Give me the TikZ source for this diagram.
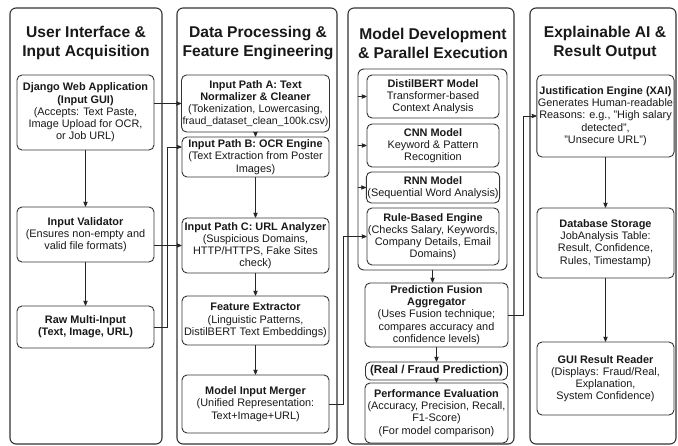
\documentclass[tikz,border=0pt]{standalone}
\usepackage{fontspec}
\setmainfont{Liberation Sans}
\usepackage{tikz}
\usetikzlibrary{positioning, arrows}
\tikzset {
    ->,
    >=stealth',
    panel/.style={draw=black!80, line width=1.1pt, rounded corners=6pt, fill=white, minimum height=436pt, inner sep=0pt},
    group/.style={draw=black!80, line width=0.9pt, rounded corners=6pt, inner sep=0pt},
    box/.style={draw=black!80, line width=0.9pt, rounded corners=5pt, fill=white, align=center, inner sep=1pt, text=black!90, font=\fontsize{10.9}{12.2}\selectfont},
    title/.style={align=center, text=black!90, font=\fontsize{15.6}{19}\selectfont\bfseries}
}

\begin{document}
\begin{tikzpicture}[x=1pt, y=-1pt, line width=0.8pt, color=black!85]
                    \useasboundingbox (0,0) rectangle (678,446);

                    \node[panel, minimum width=152pt] (uiPanel) at (86,226) {};
                    \node[panel, minimum width=160pt] (dpPanel) at (257,226) {};
                    \node[panel, minimum width=166pt] (mdPanel) at (431,226) {};
                    \node[panel, minimum width=146pt] (xaPanel) at (603,226) {};

                    \node[title] (uiTitle) at (86,43) {User Interface \&\\Input Acquisition};
                    \node[title] (dpTitle) at (258,43) {Data Processing \&\\Feature Engineering};
                    \node[title] (mdTitle) at (433,43) {Model Development\\\& Parallel Execution};
                    \node[title] (xaTitle) at (605,43) {Explainable AI \&\\Result Output};

                    \node[box, minimum width=137pt, minimum height=75pt] (django) at (85.5,112.5) {\textbf{Django Web Application}\\\textbf{(Input GUI)}\\(Accepts: Text Paste,\\Image Upload for OCR,\\or Job URL)};
                    \node[box, minimum width=137pt, minimum height=55pt] (validator) at (85.5,234.5) {\textbf{Input Validator}\\(Ensures non-empty and\\valid file formats)};
                    \node[box, minimum width=137pt, minimum height=42pt] (raw) at (85.5,327) {\textbf{Raw Multi-Input}\\\textbf{(Text, Image, URL)}};

                    \node[box, minimum width=147pt, minimum height=57pt] (pathA) at (255.5,103.5) {\textbf{Input Path A: Text}\\\textbf{Normalizer \& Cleaner}\\(Tokenization, Lowercasing,\\{\fontsize{10.5}{12.2}\selectfont fraud\_dataset\_clean\_100k.csv)}};
                    \node[box, minimum width=147pt, minimum height=40pt] (pathB) at (255.5,157) {\textbf{Input Path B: OCR Engine}\\(Text Extraction from Poster\\Images)};
                    \node[box, minimum width=147pt, minimum height=55pt] (pathC) at (255.5,245.5) {\textbf{Input Path C: URL Analyzer}\\(Suspicious Domains,\\HTTP/HTTPS, Fake Sites\\check)};
                    \node[box, minimum width=147pt, minimum height=49pt] (featx) at (255.5,320.5) {\textbf{Feature Extractor}\\(Linguistic Patterns,\\DistilBERT Text Embeddings)};
                    \node[box, minimum width=147pt, minimum height=58pt] (merger) at (255.5,404) {\textbf{Model Input Merger}\\(Unified Representation:\\Text+Image+URL)};

                    \node[group, minimum width=149pt, minimum height=201pt] (models) at (432.5,169.5) {};
                    \node[box, minimum width=132pt, minimum height=43pt] (distil) at (433,96.5) {\textbf{DistilBERT Model}\\Transformer-based\\Context Analysis};
                    \node[box, minimum width=132pt, minimum height=43pt] (cnn) at (433,145.5) {\textbf{CNN Model}\\Keyword \& Pattern\\Recognition};
                    \node[box, minimum width=132pt, minimum height=31pt] (rnn) at (433,187.5) {\textbf{RNN Model}\\(Sequential Word Analysis)};
                    \node[box, minimum width=132pt, minimum height=57pt] (rule) at (433,236.5) {\textbf{Rule-Based Engine}\\(Checks Salary, Keywords,\\Company Details, Email\\Domains)};
                    \node[box, minimum width=143pt, minimum height=64pt] (fusion) at (436.5,315) {\textbf{Prediction Fusion}\\\textbf{Aggregator}\\(Uses Fusion technique;\\compares accuracy and\\confidence levels)};
                    \node[box, minimum width=142pt, minimum height=18pt, font=\fontsize{11.5}{13}\selectfont\bfseries] (verdict) at (436.5,371) {(Real / Fraud Prediction)};
                    \node[box, minimum width=143pt, minimum height=60pt] (perf) at (436.5,413) {\textbf{Performance Evaluation}\\(Accuracy, Precision, Recall,\\F1-Score)\\(For model comparison)};

                    \node[box, minimum width=137pt, minimum height=82pt] (xai) at (605.5,116) {\textbf{Justification Engine (XAI)}\\Generates Human-readable\\Reasons: e.g., "High salary\\detected",\\"Unsecure URL")};
                    \node[box, minimum width=137pt, minimum height=70pt] (db) at (605.5,243) {\textbf{Database Storage}\\JobAnalysis Table:\\Result, Confidence,\\Rules, Timestamp)};
                    \node[box, minimum width=137pt, minimum height=73pt] (gui) at (605.5,378.5) {\textbf{GUI Result Reader}\\(Displays: Fraud/Real,\\Explanation,\\System Confidence)};

                    \draw (django) -- (validator);
                    \draw (validator) -- (raw);
                    \draw (django.east |- pathA.west) -- (pathA.west);
                    \draw (validator.east |- pathC.west) -- (pathC.west);
                    \draw (raw.east) -- ++(13,0) |- ([yshift=10pt]pathB.west);

                    \draw (pathA) -- (pathB);
                    \draw (pathB) -- (pathC);
                    \draw (pathC) -- (featx);
                    \draw (featx) -- (merger);
                    \draw (merger.east) -- ++(14,0) |- (rule.west);

                    \draw (models.west |- distil) -- (distil);
                    \draw (models.west |- cnn) -- (cnn);
                    \draw (models.west |- rnn) -- (rnn);
                    \draw (models.south) -- (models.south |- fusion.north);
                    \draw (fusion) -- (verdict);
                    \draw (verdict) -- (perf);
                    \draw (fusion.east) -- ++(15,0) |- (xai.west);

                    \draw (xai) -- (db);
                    \draw (db) -- (gui);
\end{tikzpicture}
\end{document}
